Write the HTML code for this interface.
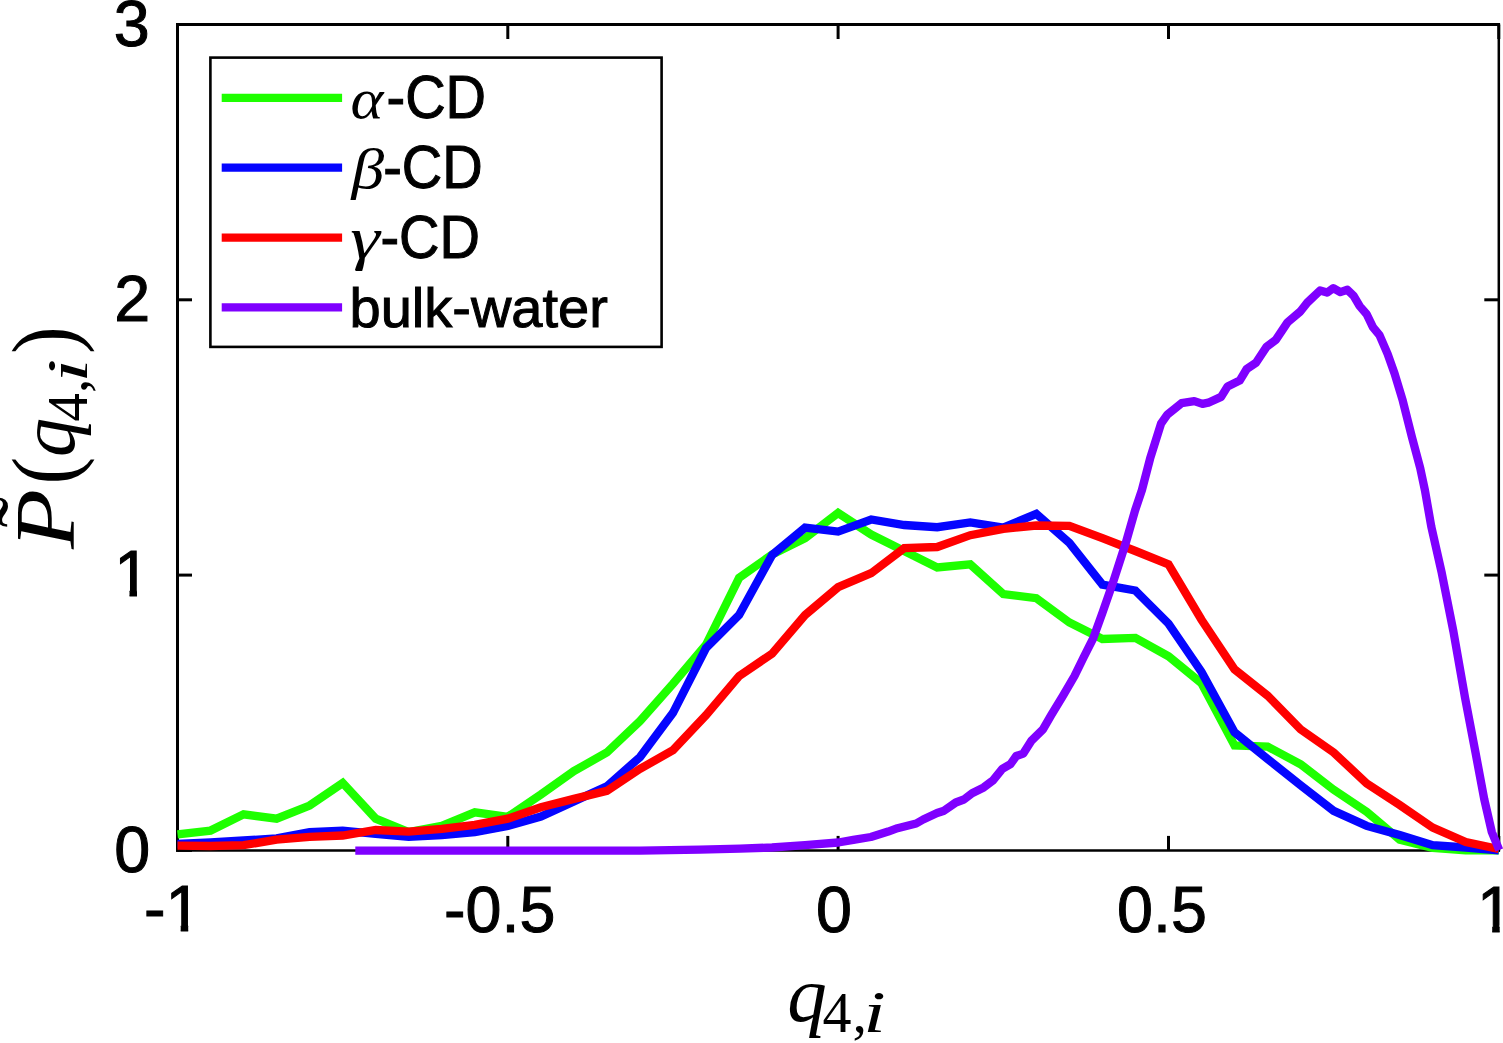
<!DOCTYPE html>
<html lang="en">
<head>
<meta charset="utf-8">
<title>P(q4,i) distribution</title>
<style>
html,body{margin:0;padding:0;background:#fff;}
body{width:1503px;height:1043px;overflow:hidden;}
svg{display:block;}
text{font-family:'Liberation Sans', Arial, Helvetica, sans-serif;fill:#000;}
text.s{stroke:#000;stroke-width:1px;}
text.m{font-family:'Liberation Serif', 'Times New Roman', serif;}
.it{font-style:italic;}
.gk{font-family:'Liberation Serif', 'Times New Roman', serif;font-style:italic;}
</style>
</head>
<body>
<svg width="1503" height="1043" viewBox="0 0 1503 1043">
<rect x="0" y="0" width="1503" height="1043" fill="#ffffff"/>
<defs>
<clipPath id="c1"><path d="M125.5 871.3H225.5V924.9H188.2V933.3H180.7V924.9H125.5Z"/></clipPath>
<clipPath id="c2"><path d="M1437.0 871.7H1537.0V925.3H1499.7V933.7H1492.2V925.3H1437.0Z"/></clipPath>
<clipPath id="c3"><path d="M74.3 535.8H174.3V589.4H137.0V597.8H129.5V589.4H74.3Z"/></clipPath>
</defs>
<!-- axes box -->
<g stroke="#000" stroke-width="3.0" fill="none" stroke-linecap="butt">
<line x1="177.5" y1="23.0" x2="177.5" y2="851.65"/>
<line x1="176.0" y1="24.5" x2="1500.05" y2="24.5"/>
<line x1="1498.8" y1="23.0" x2="1498.8" y2="851.65" stroke-width="2.5"/>
<line x1="176.0" y1="850.4" x2="1500.05" y2="850.4" stroke-width="2.5"/>
<g stroke-width="3.0">
<line x1="177.5" y1="850.4" x2="177.5" y2="835.9"/>
<line x1="177.5" y1="24.5" x2="177.5" y2="39.0"/>
<line x1="507.8" y1="850.4" x2="507.8" y2="835.9"/>
<line x1="507.8" y1="24.5" x2="507.8" y2="39.0"/>
<line x1="838.1" y1="850.4" x2="838.1" y2="835.9"/>
<line x1="838.1" y1="24.5" x2="838.1" y2="39.0"/>
<line x1="1168.5" y1="850.4" x2="1168.5" y2="835.9"/>
<line x1="1168.5" y1="24.5" x2="1168.5" y2="39.0"/>
<line x1="1498.8" y1="850.4" x2="1498.8" y2="835.9"/>
<line x1="1498.8" y1="24.5" x2="1498.8" y2="39.0"/>
<line x1="177.5" y1="850.4" x2="192.0" y2="850.4"/>
<line x1="1498.8" y1="850.4" x2="1484.3" y2="850.4"/>
<line x1="177.5" y1="575.1" x2="192.0" y2="575.1"/>
<line x1="1498.8" y1="575.1" x2="1484.3" y2="575.1"/>
<line x1="177.5" y1="299.8" x2="192.0" y2="299.8"/>
<line x1="1498.8" y1="299.8" x2="1484.3" y2="299.8"/>
<line x1="177.5" y1="24.5" x2="192.0" y2="24.5"/>
<line x1="1498.8" y1="24.5" x2="1484.3" y2="24.5"/>
</g>
</g>
<!-- tick labels -->
<g>
<g clip-path="url(#c1)"><text class="s" transform="translate(144.0 931.3) scale(1.01 1)" font-size="64">-1</text></g>
<text class="s" transform="translate(444.0 932.4) scale(1.01 1)" font-size="64">-0.5</text>
<text class="s" transform="translate(816.0 932.4) scale(1.01 1)" font-size="64">0</text>
<text class="s" transform="translate(1117.0 932.4) scale(1.01 1)" font-size="64">0.5</text>
<g clip-path="url(#c2)"><text class="s" transform="translate(1477.0 931.7) scale(1.01 1)" font-size="64">1</text></g>
<text class="s" transform="translate(113.8 46.2) scale(1.01 1)" font-size="64">3</text>
<text class="s" transform="translate(114.3 320.5) scale(1.01 1)" font-size="64">2</text>
<g clip-path="url(#c3)"><text class="s" transform="translate(114.3 595.8) scale(1.01 1)" font-size="64">1</text></g>
<text class="s" transform="translate(114.3 872.3) scale(1.01 1)" font-size="64">0</text>
</g>
<!-- axis labels -->
<g>
<text class="m it" transform="translate(787.2 1021.1)" font-size="79">q</text>
<text class="m" transform="translate(822.5 1032)" font-size="58">4</text>
<text class="m" transform="translate(852.5 1032)" font-size="58">,</text>
<text class="m it" transform="translate(863.2 1032) scale(1.35 1)" font-size="60">i</text>
<text class="m" transform="translate(54 527.5) rotate(-90) scale(1.1 1)" font-size="84">˜</text>
<text class="m it" transform="translate(74.4 549.0) rotate(-90) scale(1.17 1)" font-size="84">P</text>
<text class="m" transform="translate(75.3 484.5) rotate(-90) scale(0.9 1)" font-size="92">(</text>
<text class="m it" transform="translate(74.4 457) rotate(-90)" font-size="78">q</text>
<text class="m" transform="translate(87 421.5) rotate(-90)" font-size="57">4</text>
<text class="m" transform="translate(87 393) rotate(-90)" font-size="57">,</text>
<text class="m it" transform="translate(87 383.0) rotate(-90) scale(1.55 1)" font-size="57">i</text>
<text class="m" transform="translate(75.3 354) rotate(-90) scale(0.9 1)" font-size="92">)</text>
</g>
<!-- data -->
<g fill="none" stroke-width="8.33" stroke-linejoin="miter" stroke-linecap="butt">
<polyline stroke="#1eff00" points="177.5,834.4 210.5,830.6 243.6,814.3 276.6,818.7 309.6,805.5 342.7,783.0 375.7,818.7 408.7,832.0 441.8,825.9 474.8,812.4 507.8,816.8 540.9,794.5 573.9,771.1 606.9,752.4 640.0,721.0 673.0,683.8 706.0,644.8 739.1,577.9 772.1,554.5 805.1,538.2 838.1,512.9 871.2,534.6 904.2,551.0 937.2,567.4 970.3,564.4 1003.3,594.1 1036.3,598.2 1069.4,622.5 1102.4,639.0 1135.4,637.9 1168.5,656.3 1201.5,683.3 1234.5,745.5 1267.6,746.6 1300.6,764.2 1333.6,789.7 1366.7,811.9 1399.7,839.8 1432.7,847.9 1465.8,850.4 1498.8,850.4"/>
<polyline stroke="#0505ff" points="177.5,843.8 210.5,842.4 243.6,840.5 276.6,838.3 309.6,832.2 342.7,830.6 375.7,833.9 408.7,836.9 441.8,835.1 474.8,832.2 507.8,825.9 540.9,816.5 573.9,801.4 606.9,786.3 640.0,757.1 673.0,712.8 706.0,648.1 739.1,615.0 772.1,555.0 805.1,527.7 838.1,531.6 871.2,519.5 904.2,525.0 937.2,527.2 970.3,522.5 1003.3,527.7 1036.3,513.8 1069.4,542.9 1102.4,584.7 1135.4,590.5 1168.5,623.6 1201.5,672.0 1234.5,732.3 1267.6,759.0 1300.6,785.2 1333.6,810.8 1366.7,825.9 1399.7,835.1 1432.7,845.2 1465.8,847.5 1498.8,850.4"/>
<polyline stroke="#ff0000" points="177.5,845.7 210.5,846.0 243.6,845.2 276.6,839.7 309.6,836.9 342.7,835.5 375.7,830.0 408.7,831.7 441.8,828.9 474.8,824.8 507.8,818.7 540.9,807.2 573.9,798.9 606.9,790.9 640.0,768.9 673.0,750.2 706.0,715.2 739.1,676.1 772.1,653.6 805.1,615.0 838.1,587.2 871.2,573.2 904.2,548.1 937.2,547.0 970.3,535.2 1003.3,528.8 1036.3,525.5 1069.4,525.8 1102.4,538.2 1135.4,551.0 1168.5,564.4 1201.5,619.7 1234.5,669.3 1267.6,695.7 1300.6,729.3 1333.6,752.4 1366.7,783.5 1399.7,805.0 1432.7,827.6 1465.8,842.1 1498.8,849.0"/>
<polyline stroke="#7f00ff" stroke-linejoin="round" points="355.3,850.6 640.0,850.6 700.0,849.6 740.0,848.6 772.0,847.5 805.0,845.2 838.2,842.5 853.3,839.8 870.8,837.0 888.2,831.6 897.5,828.2 916.2,823.5 923.2,819.5 937.1,813.0 944.1,810.7 955.8,802.5 963.9,799.5 972.1,793.2 983.7,787.4 993.0,780.4 1002.3,768.8 1010.5,764.1 1016.3,756.0 1023.3,753.6 1031.4,740.8 1043.1,729.2 1051.2,715.2 1062.9,695.8 1074.5,676.0 1083.8,657.0 1093.2,638.4 1102.5,612.7 1113.0,582.5 1125.8,542.9 1135.1,510.3 1141.9,490.1 1150.1,458.6 1161.0,423.7 1167.5,414.4 1181.5,403.2 1194.3,401.1 1202.5,403.9 1208.3,402.7 1221.1,396.9 1227.6,386.4 1239.7,380.6 1246.7,369.0 1256.0,362.7 1266.5,346.9 1275.8,339.9 1287.5,322.4 1300.3,311.5 1307.3,302.6 1320.1,290.5 1327.1,292.6 1333.3,288.2 1340.3,292.1 1347.3,289.8 1353.8,296.1 1359.7,306.1 1366.7,314.2 1372.9,327.1 1379.5,335.2 1387.6,353.8 1394.6,373.6 1402.7,400.4 1412.1,437.7 1420.2,468.0 1424.9,490.1 1431.3,526.6 1441.8,573.2 1453.4,631.4 1465.1,698.0 1475.5,752.5 1484.2,799.0 1491.8,832.0 1499.2,850.0"/>
</g>
<!-- legend -->
<g>
<rect x="210.4" y="57.6" width="451.2" height="289.3" fill="#fff" stroke="#000" stroke-width="2.6"/>
<line x1="221.7" y1="97.9" x2="342.1" y2="97.9" stroke="#1eff00" stroke-width="8.33"/>
<line x1="221.7" y1="167.7" x2="342.1" y2="167.7" stroke="#0505ff" stroke-width="8.33"/>
<line x1="221.7" y1="237.6" x2="342.1" y2="237.6" stroke="#ff0000" stroke-width="8.33"/>
<line x1="221.7" y1="307.3" x2="342.1" y2="307.3" stroke="#7f00ff" stroke-width="8.33"/>
<text class="gk" transform="translate(350.5 118.0) scale(1.1 1)" font-size="57">α</text>
<text class="s" transform="translate(386.5 118.0) scale(1.0 1.08)" font-size="56">-CD</text>
<text class="gk" transform="translate(351.5 187.8) scale(1.15 1)" font-size="57">β</text>
<text class="s" transform="translate(383.2 187.8) scale(1.0 1.08)" font-size="56">-CD</text>
<text class="gk" transform="translate(350.3 257.7) scale(1.25 1)" font-size="60">γ</text>
<text class="s" transform="translate(380.4 257.7) scale(1.0 1.08)" font-size="56">-CD</text>
<text class="s" transform="translate(349.5 327.4)" font-size="56">bulk-water</text>
</g>
</svg>
</body>
</html>
